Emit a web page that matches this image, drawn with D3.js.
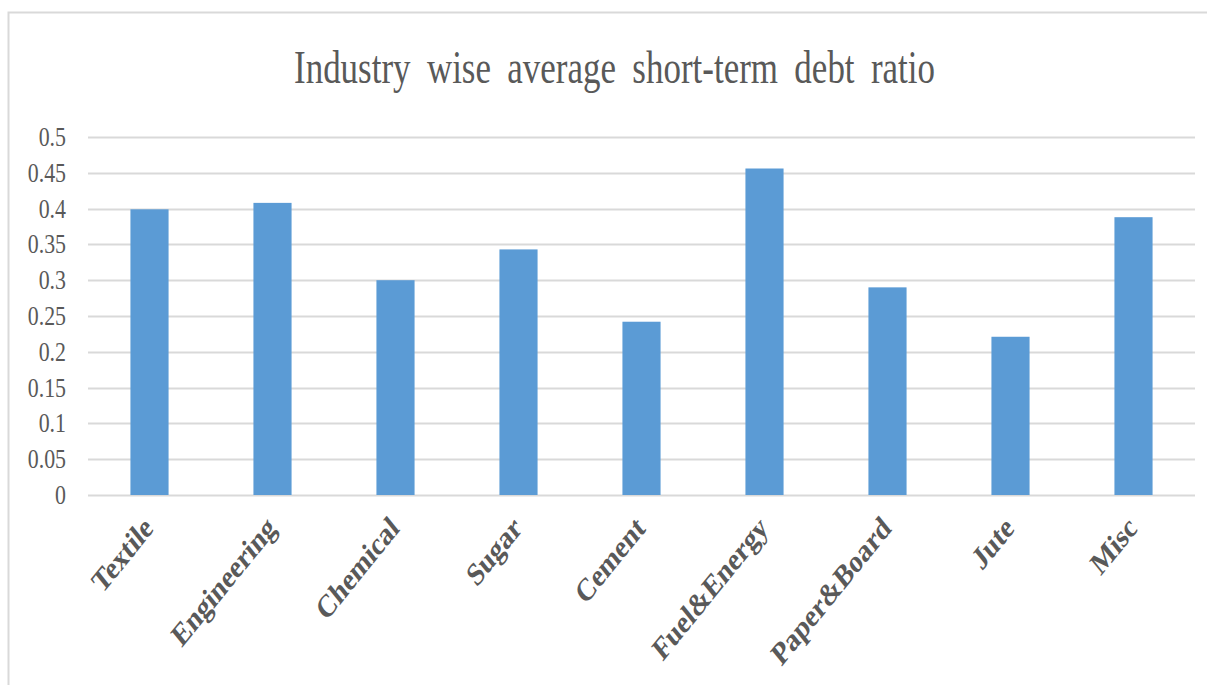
<!DOCTYPE html>
<html>
<head>
<meta charset="utf-8">
<script src="https://cdn.jsdelivr.net/npm/d3@7"></script>
<style>
  body { margin: 0; background: #fff; }
  svg { display: block; }
</style>
</head>
<body>
<div id="chart"></div>
<script>
var categories = ["Textile", "Engineering", "Chemical", "Sugar", "Cement", "Fuel&Energy", "Paper&Board", "Jute", "Misc"];
var values = [0.399, 0.408, 0.300, 0.343, 0.242, 0.456, 0.290, 0.221, 0.388];
var yTicks = [0, 0.05, 0.1, 0.15, 0.2, 0.25, 0.3, 0.35, 0.4, 0.45, 0.5];
var title = "Industry wise average short-term debt ratio";

var width = 1207, height = 685;
var margin = {left: 88, right: 12, top: 137, bottom: 190};
var serif = "'Liberation Serif', 'Times New Roman', serif";
// the source picture is squeezed sideways, so text is narrowed
var squeeze = 0.81;

var svg = d3.select("#chart").append("svg")
    .attr("width", width)
    .attr("height", height);

// chart frame (only top and left edge show)
svg.append("rect")
    .attr("x", 8.5).attr("y", 12.5)
    .attr("width", 1220).attr("height", 700)
    .attr("fill", "none")
    .attr("stroke", "#d9d9d9")
    .attr("stroke-width", 2);

var x = d3.scaleBand()
    .domain(categories)
    .range([margin.left, width - margin.right])
    .paddingInner(0.69)
    .paddingOuter(0.345);

var y = d3.scaleLinear()
    .domain([0, 0.5])
    .range([height - margin.bottom, margin.top]);

//gridlines
svg.append("g")
    .selectAll("line")
    .data(yTicks)
    .join("line")
    .attr("x1", margin.left)
    .attr("x2", width - margin.right)
    .attr("y1", d => Math.round(y(d)) + 0.5)
    .attr("y2", d => Math.round(y(d)) + 0.5)
    .attr("stroke", "#d9d9d9")
    .attr("stroke-width", 2);

//y tick labels
svg.append("g")
    .selectAll("text")
    .data(yTicks)
    .join("text")
    .attr("transform", d => "translate(66," + (y(d) + 9) + ") scale(" + squeeze + ",1)")
    .attr("text-anchor", "end")
    .attr("font-family", serif)
    .attr("font-size", 27)
    .attr("fill", "#595959")
    .text(d => d);

//bars
svg.append("g")
    .selectAll("rect")
    .data(values)
    .join("rect")
    .attr("x", (d, i) => x(categories[i]))
    .attr("y", d => y(d))
    .attr("width", x.bandwidth())
    .attr("height", d => y(0) - y(d))
    .attr("fill", "#5b9bd5");

//x labels, rotated
svg.append("g")
    .selectAll("text")
    .data(categories)
    .join("text")
    .attr("transform", d => "translate(" + (x(d) + x.bandwidth() / 2 + 5) + "," + (y(0) + 35) + ") scale(" + squeeze + ",1) rotate(-45)")
    .attr("text-anchor", "end")
    .attr("font-family", serif)
    .attr("font-weight", "bold")
    .attr("font-size", 32)
    .attr("fill", "#595959")
    .text(d => d);

//title
svg.append("text")
    .attr("x", 294)
    .attr("y", 83)
    .attr("font-family", serif)
    .attr("font-size", 46)
    .attr("fill", "#595959")
    .attr("word-spacing", 10)
    .attr("textLength", 641)
    .attr("lengthAdjust", "spacingAndGlyphs")
    .text(title);
</script>
</body>
</html>
